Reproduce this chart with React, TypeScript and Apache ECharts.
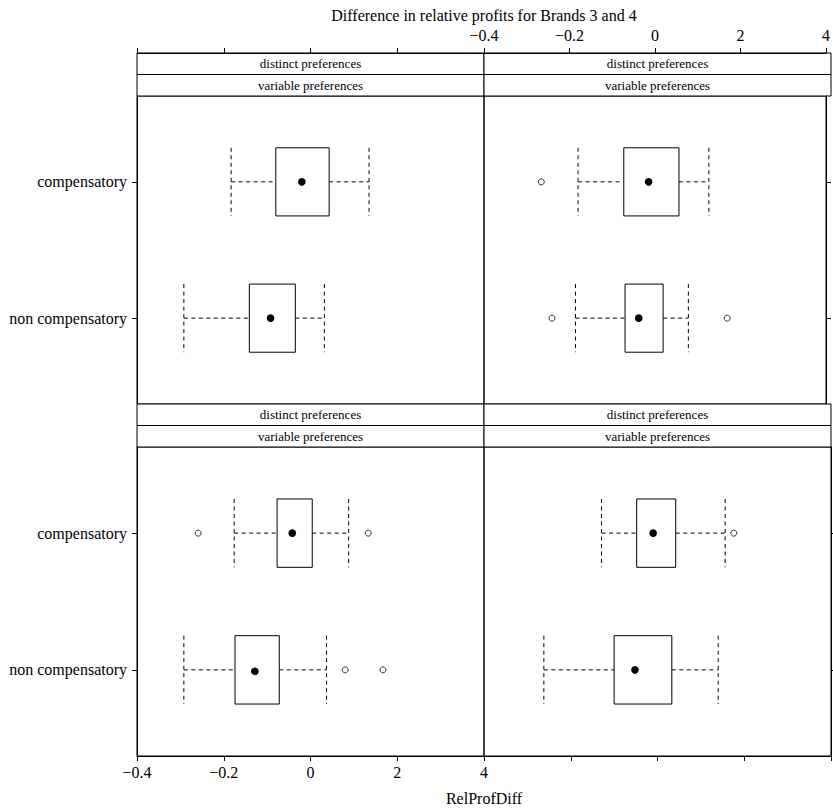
import React, { useEffect, useRef } from "react";
import * as echarts from "echarts";

const xTickValues = [-4, -2, 0, 2, 4];
const xTickLabels = ["\u22120.4", "\u22120.2", "0", "2", "4"];
const yLevels = ["non compensatory", "compensatory"];
const yPositions = [1, 2];
const stripTopText = "distinct preferences";
const stripBottomText = "variable preferences";
const mainTitle = "Difference in relative profits for Brands 3 and 4";
const xLabel = "RelProfDiff";

// [lower whisker, Q1, median, Q3, upper whisker]
const tlNonComp = [-2.92, -1.41, -0.92, -0.35, 0.32];
const tlComp = [-1.83, -0.8, -0.2, 0.43, 1.35];
const trNonComp = [-1.86, -0.7, -0.38, 0.19, 0.78];
const trComp = [-1.8, -0.73, -0.15, 0.56, 1.26];
const blNonComp = [-2.92, -1.74, -1.29, -0.72, 0.37];
const blComp = [-1.76, -0.77, -0.42, 0.04, 0.88];
const brNonComp = [-2.62, -1.0, -0.52, 0.33, 1.4];
const brComp = [-1.29, -0.48, -0.1, 0.42, 1.56];

const tlNonOut: number[] = [];
const tlCompOut: number[] = [];
const trNonOut = [-2.41, 1.69];
const trCompOut = [-2.66];
const blNonOut = [0.8, 1.67];
const blCompOut = [-2.59, 1.33];
const brNonOut: number[] = [];
const brCompOut = [1.76];

const FONT = "'Liberation Serif', 'Times New Roman', serif";

export default function App() {
  const ref = useRef<HTMLDivElement>(null);
  useEffect(() => {
    if (!ref.current) return;
    const chart = echarts.init(ref.current, undefined, { renderer: "svg" });

    const panels = [
      { stats: [tlNonComp, tlComp], outs: [tlNonOut, tlCompOut] },
      { stats: [trNonComp, trComp], outs: [trNonOut, trCompOut] },
      { stats: [blNonComp, blComp], outs: [blNonOut, blCompOut] },
      { stats: [brNonComp, brComp], outs: [brNonOut, brCompOut] },
    ];

    const gridLayout = [
      { left: 137, top: 96, width: 347, height: 308 },
      { left: 484, top: 96, width: 347, height: 308 },
      { left: 137, top: 447, width: 347, height: 309 },
      { left: 484, top: 447, width: 347, height: 309 },
    ];

    const grids = gridLayout.map((g) => ({
      ...g,
      show: true,
      borderColor: "#000",
      borderWidth: 1,
      backgroundColor: "transparent",
      containLabel: false,
    }));

    const xLabelFmt = (v: number) => {
      const i = xTickValues.indexOf(v);
      return i >= 0 ? xTickLabels[i] : "";
    };
    const yLabelFmt = (v: number) => {
      const i = yPositions.indexOf(v);
      return i >= 0 ? yLevels[i] : "";
    };

    const xAxes = [0, 1, 2, 3].map((i) => {
      const isTop = i < 2;
      const showLabel = i === 1 || i === 2;
      return {
        type: "value",
        gridIndex: i,
        min: -4,
        max: 4,
        position: isTop ? "top" : "bottom",
        offset: isTop ? 43 : 0,
        axisLine: { show: true, onZero: false, lineStyle: { color: "#000", width: 1 } },
        axisTick: {
          show: true,
          length: 5,
          inside: false,
          lineStyle: { color: "#000", width: 1 },
          customValues: xTickValues,
        },
        axisLabel: {
          show: showLabel,
          customValues: xTickValues,
          formatter: xLabelFmt,
          color: "#000",
          fontSize: 16,
          fontFamily: FONT,
          margin: isTop ? 10 : 8,
          showMinLabel: true,
          showMaxLabel: true,
        },
        splitLine: { show: false },
      };
    });

    const yAxes = [0, 1, 2, 3].map((i) => {
      const isLeft = i % 2 === 0;
      return {
        type: "value",
        gridIndex: i,
        min: 0.37,
        max: 2.63,
        position: isLeft ? "left" : "right",
        axisLine: { show: true, onZero: false, lineStyle: { color: "#000", width: 1 } },
        axisTick: {
          show: true,
          length: 5,
          inside: false,
          lineStyle: { color: "#000", width: 1 },
          customValues: yPositions,
        },
        axisLabel: {
          show: isLeft,
          customValues: yPositions,
          formatter: yLabelFmt,
          color: "#000",
          fontSize: 16,
          fontFamily: FONT,
          margin: 10,
        },
        splitLine: { show: false },
      };
    });

    const series: any[] = [];
    panels.forEach((p, i) => {
      series.push({
        type: "custom",
        xAxisIndex: i,
        yAxisIndex: i,
        clip: false,
        data: p.stats.map((s, k) => [yPositions[k], ...s]),
        encode: { x: [1, 2, 3, 4, 5], y: 0 },
        renderItem: (params: any, api: any) => {
          const y = api.value(0);
          const lo = api.value(1);
          const q1 = api.value(2);
          const md = api.value(3);
          const q3 = api.value(4);
          const hi = api.value(5);
          const pLo = api.coord([lo, y]);
          const yc = pLo[1];
          const xLo = pLo[0];
          const xQ1 = api.coord([q1, y])[0];
          const xMd = api.coord([md, y])[0];
          const xQ3 = api.coord([q3, y])[0];
          const xHi = api.coord([hi, y])[0];
          const h = api.size([0, 0.5])[1];
          const top = yc - h / 2;
          const bot = yc + h / 2;
          const dash = { stroke: "#000", lineWidth: 1, lineDash: [4, 3.5], fill: null };
          return {
            type: "group",
            children: [
              { type: "line", shape: { x1: xLo, y1: yc, x2: xQ1, y2: yc }, style: dash },
              { type: "line", shape: { x1: xQ3, y1: yc, x2: xHi, y2: yc }, style: dash },
              { type: "line", shape: { x1: xLo, y1: top, x2: xLo, y2: bot }, style: dash },
              { type: "line", shape: { x1: xHi, y1: top, x2: xHi, y2: bot }, style: dash },
              {
                type: "rect",
                shape: { x: xQ1, y: top, width: xQ3 - xQ1, height: h },
                style: { fill: "#fff", stroke: "#000", lineWidth: 1 },
              },
              { type: "circle", shape: { cx: xMd, cy: yc, r: 3.8 }, style: { fill: "#000" } },
            ],
          };
        },
      });
      const outData: number[][] = [];
      p.outs.forEach((arr, k) => arr.forEach((v) => outData.push([v, yPositions[k]])));
      series.push({
        type: "scatter",
        xAxisIndex: i,
        yAxisIndex: i,
        data: outData,
        symbol: "circle",
        symbolSize: 6,
        itemStyle: { color: "#fff", borderColor: "#000", borderWidth: 1 },
        z: 5,
      });
    });

    const graphics: any[] = [];
    const stripRows = [
      [53, 74.5],
      [404, 425.5],
    ];
    const txt = (t: string, x: number, y: number, size: number) => ({
      type: "text",
      x,
      y,
      style: {
        text: t,
        fill: "#000",
        fontSize: size,
        fontFamily: FONT,
        textAlign: "center",
        textVerticalAlign: "middle",
        align: "center",
        verticalAlign: "middle",
      },
    });
    gridLayout.forEach((g, i) => {
      const rows = stripRows[i < 2 ? 0 : 1];
      [stripTopText, stripBottomText].forEach((t, k) => {
        graphics.push({
          type: "rect",
          shape: { x: g.left, y: rows[k], width: g.width, height: 21.5 },
          style: { fill: "#fff", stroke: "#000", lineWidth: 1 },
        });
        graphics.push(txt(t, g.left + g.width / 2, rows[k] + 10.75, 13));
      });
    });
    graphics.push(txt(mainTitle, 484, 15, 16));
    graphics.push(txt(xLabel, 484, 798, 16));

    chart.setOption({
      animation: false,
      backgroundColor: "#fff",
      textStyle: { fontFamily: FONT },
      grid: grids,
      xAxis: xAxes,
      yAxis: yAxes,
      series,
      graphic: graphics,
    });
    return () => chart.dispose();
  }, []);
  return (
    <div
      ref={ref}
      style={{ position: "absolute", left: 0, top: 0, width: 833, height: 810 }}
    />
  );
}
